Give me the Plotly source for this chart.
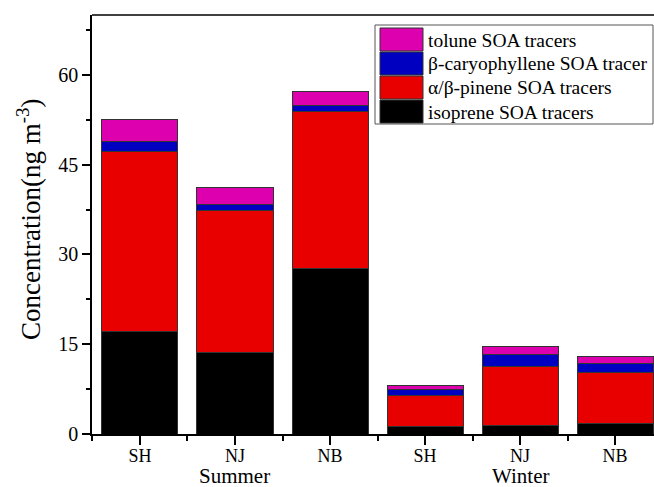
import plotly.graph_objects as go

sites = ["SH", "NJ", "NB", "SH", "NJ", "NB"]
seasons = ["Summer", "Winter"]
season_center_idx = [1, 4]

isoprene = [17.2, 13.6, 27.6, 1.3, 1.5, 1.7]
pinene = [30.0, 23.7, 26.2, 5.1, 9.7, 8.6]
caryophyllene = [1.7, 1.0, 1.0, 1.1, 2.0, 1.4]
toluene = [3.6, 2.8, 2.5, 0.6, 1.4, 1.2]

series_names = ["isoprene SOA tracers", "α/β-pinene SOA tracers",
                "β-caryophyllene SOA tracer", "tolune SOA tracers"]
series_values = [isoprene, pinene, caryophyllene, toluene]
series_colors = ["#000000", "#E80000", "#0000C0", "#DC00AE"]

yticks = [0, 15, 30, 45, 60]
y_title = "Concentration(ng m<sup>-3</sup>)"

FONT = "Liberation Serif, Times New Roman, serif"

W, H = 654, 487
AX_L, AX_T, AX_B = 92, 15, 434   # plot edges in window pixels
ML, MR, MT, MB = AX_L, 0, AX_T, H - AX_B
PW, PH = W - ML - MR, H - MT - MB

def fx(px):
    return (px - AX_L) / PW

def fy(py):
    return (AX_B - py) / PH

xs = list(range(len(sites)))
fig = go.Figure()
for name, vals, col in zip(series_names, series_values, series_colors):
    fig.add_trace(go.Bar(x=xs, y=vals, name=name, width=0.8,
                         marker=dict(color=col, line=dict(color="#333333", width=1)),
                         showlegend=False))

# manual legend (top entry first)
shapes = []
annotations = []
shapes.append(dict(type="rect", xref="paper", yref="paper",
                   x0=fx(375), x1=fx(653), y0=fy(124), y1=fy(25),
                   line=dict(color="#555555", width=1), fillcolor="white", layer="above"))
row_top = 28
row_h = 24
for i, k in enumerate(reversed(range(len(series_names)))):
    t = row_top + i * row_h
    shapes.append(dict(type="rect", xref="paper", yref="paper",
                       x0=fx(380), x1=fx(423), y0=fy(t + row_h - 1), y1=fy(t),
                       line=dict(color="#333333", width=1), fillcolor=series_colors[k],
                       layer="above"))
    annotations.append(dict(xref="paper", yref="paper", x=fx(426), y=fy(t + row_h / 2),
                            text=series_names[k], showarrow=False, xanchor="left",
                            yanchor="middle", font=dict(family=FONT, size=19.5, color="black")))

# top frame line
shapes.append(dict(type="line", xref="paper", yref="paper", x0=0, x1=1, y0=1, y1=1,
                   line=dict(color="black", width=1.5)))

for s, idx in zip(seasons, season_center_idx):
    annotations.append(dict(xref="x", yref="paper", x=idx, y=fy(476), text=s,
                            showarrow=False, xanchor="center", yanchor="middle",
                            font=dict(family=FONT, size=21, color="black")))

# y-axis title
annotations.append(dict(xref="paper", yref="paper", x=fx(29), y=fy(220), text=y_title,
                        textangle=-90, showarrow=False, xanchor="center", yanchor="middle",
                        font=dict(family=FONT, size=27, color="black")))

fig.update_layout(
    barmode="stack",
    width=W, height=H,
    margin=dict(l=ML, r=MR, t=MT, b=MB, pad=0),
    paper_bgcolor="white", plot_bgcolor="white",
    font=dict(family=FONT, color="black"),
    shapes=shapes, annotations=annotations,
    xaxis=dict(range=[-0.505, 5.41], tickvals=xs, ticktext=sites, automargin=False,
               showgrid=False, zeroline=False, showline=True, linecolor="black", linewidth=1.5,
               ticks="outside", ticklen=9, tickwidth=1.5, tickcolor="black",
               ticklabelstandoff=-4,
               tickfont=dict(family=FONT, size=18, color="black"),
               minor=dict(tick0=0.5, dtick=1, ticks="outside", ticklen=5, tickwidth=1.5,
                          tickcolor="black", showgrid=False)),
    yaxis=dict(range=[0, 70], tickvals=yticks, ticktext=[str(v) for v in yticks], automargin=False,
               showgrid=False, zeroline=False, showline=True, linecolor="black", linewidth=1.5,
               ticks="outside", ticklen=8, tickwidth=1.5, tickcolor="black",
               tickfont=dict(family=FONT, size=20, color="black"),
               minor=dict(tick0=7.5, dtick=15, ticks="outside", ticklen=4, tickwidth=1.5,
                          tickcolor="black", showgrid=False)),
)

fig.write_html("out.html", config={"displayModeBar": False},
               post_script="document.body.style.margin='0';document.body.style.overflow='hidden';")
